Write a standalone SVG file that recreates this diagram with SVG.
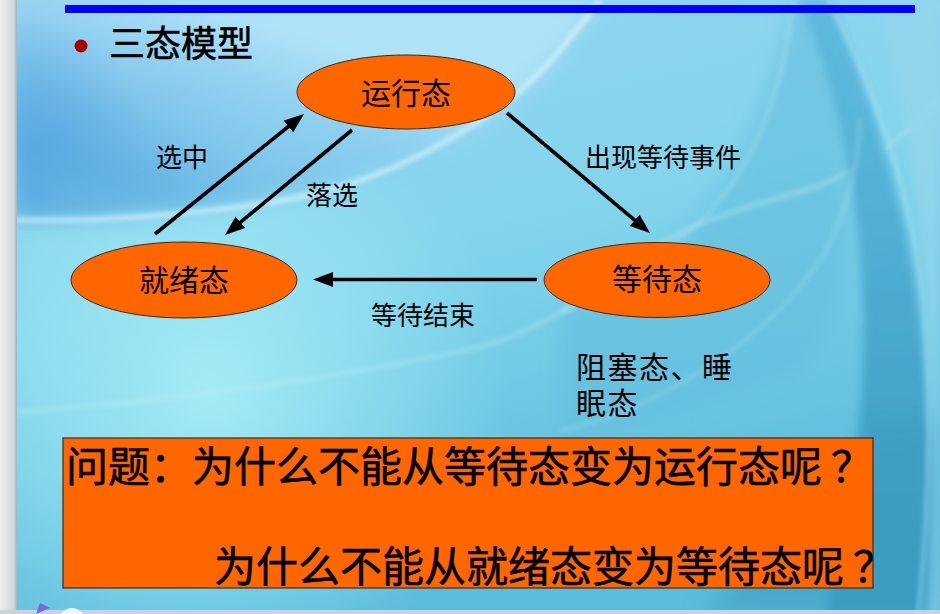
<svg xmlns="http://www.w3.org/2000/svg" width="940" height="614" viewBox="0 0 940 614">
  <defs>
    <style>
      .cjk { font-family: "Noto Sans CJK SC", "Noto Sans", sans-serif; fill: #000; }
      .state { fill: #ff6600; stroke: #3a2a20; stroke-width: 1; }
      .state-label { font-size: 30px; text-anchor: middle; }
      .edge-label { font-size: 26px; }
      .edge { stroke: #000; stroke-width: 3.6; fill: none; marker-end: url(#arrowhead); }
      .box-text { font-size: 42px; stroke: #000; stroke-width: 0.6; }
    </style>
    <marker id="arrowhead" markerUnits="userSpaceOnUse" markerWidth="22" markerHeight="16" refX="12" refY="7.5" orient="auto">
      <path d="M0,0 L20,7.5 L0,15 Z" fill="#000"/>
    </marker>
    <linearGradient id="bgBase" x1="0" y1="0" x2="0.35" y2="1">
      <stop offset="0" stop-color="#98d6f1"/>
      <stop offset="0.5" stop-color="#82d4ec"/>
      <stop offset="1" stop-color="#5cbcdb"/>
    </linearGradient>
    <linearGradient id="bandShade" gradientUnits="userSpaceOnUse" x1="300" y1="40" x2="240" y2="215">
      <stop offset="0" stop-color="#b2e4f8" stop-opacity="0.9"/>
      <stop offset="0.55" stop-color="#7fc2ec" stop-opacity="0.7"/>
      <stop offset="1" stop-color="#4c9edc" stop-opacity="0.95"/>
    </linearGradient>
    <radialGradient id="cornerBlue" cx="20" cy="130" r="120" gradientUnits="userSpaceOnUse">
      <stop offset="0" stop-color="#5eaee4" stop-opacity="0.8"/>
      <stop offset="1" stop-color="#5eaee4" stop-opacity="0"/>
    </radialGradient>
    <radialGradient id="lowGlow" cx="210" cy="390" r="300" gradientUnits="userSpaceOnUse">
      <stop offset="0" stop-color="#a8eef7" stop-opacity="0.9"/>
      <stop offset="1" stop-color="#a8eef7" stop-opacity="0"/>
    </radialGradient>
    <linearGradient id="tealDeep" x1="0" y1="0" x2="0" y2="1">
      <stop offset="0" stop-color="#5ab6dc"/>
      <stop offset="0.5" stop-color="#45a4cc"/>
      <stop offset="1" stop-color="#2f93bb"/>
    </linearGradient>
    <linearGradient id="sideBar" x1="0" y1="0" x2="1" y2="0">
      <stop offset="0" stop-color="#eceef0"/>
      <stop offset="0.8" stop-color="#d2d6da"/>
      <stop offset="1" stop-color="#a9b1b8"/>
    </linearGradient>
    <filter id="soft" x="-20%" y="-20%" width="140%" height="140%">
      <feGaussianBlur stdDeviation="10"/>
    </filter>
    <filter id="softer" x="-20%" y="-20%" width="140%" height="140%">
      <feGaussianBlur stdDeviation="5"/>
    </filter>
    <filter id="softLine" x="-10%" y="-10%" width="120%" height="120%">
      <feGaussianBlur stdDeviation="2.5"/>
    </filter>
  </defs>

  <!-- slide background -->
  <g id="background">
    <rect x="0" y="0" width="940" height="614" fill="url(#bgBase)"/>
    <!-- upper-left swoosh, darkening toward its lower edge -->
    <path d="M15,0 L600,0 C570,40 530,95 470,130 C400,170 300,198 180,212 C110,220 60,220 15,218 Z" fill="url(#bandShade)" filter="url(#soft)"/>
    <rect x="0" y="0" width="300" height="230" fill="url(#cornerBlue)"/>
    <!-- light glow lower left -->
    <rect x="0" y="0" width="940" height="614" fill="url(#lowGlow)"/>
    <!-- bright edge under the swoosh -->
    <path d="M15,220 C110,222 190,214 260,204 C330,194 380,176 430,150 C490,118 530,86 560,50 C575,32 588,16 600,0" fill="none" stroke="#e8fbff" stroke-width="4" stroke-opacity="0.75" filter="url(#softLine)"/>
    <!-- medium band right of the waiting state -->
    <path d="M793,0 C775,90 730,190 677,240 C640,275 600,300 560,313 L560,440 C640,430 720,400 780,380 C830,360 850,300 850,200 C850,120 835,50 815,0 Z" fill="#62bcdc" fill-opacity="0.55" filter="url(#soft)"/>
    <!-- long sweep through the lower half -->
    <path d="M15,412 C180,400 330,380 480,347 C560,325 620,270 667,240 C720,210 780,200 820,185 C870,165 910,130 940,100" fill="none" stroke="#c4f2fb" stroke-width="3" stroke-opacity="0.5" filter="url(#softLine)"/>
    <!-- deep teal lens on the right -->
    <path d="M800,0 C845,110 870,250 862,390 C856,480 840,560 826,614 L922,614 C934,500 932,360 905,230 C882,130 855,55 830,0 Z" fill="url(#tealDeep)" fill-opacity="0.85" filter="url(#softer)"/>
    <!-- bottom right shading under the box -->
    <path d="M700,614 C760,560 820,500 870,430 L940,420 L940,614 Z" fill="#3a9cc2" fill-opacity="0.6" filter="url(#soft)"/>
    <!-- arcs -->
    <path d="M793,0 C785,80 760,150 720,200 C690,235 640,275 560,313" fill="none" stroke="#b4e8f6" stroke-width="2.5" stroke-opacity="0.55" filter="url(#softLine)"/>
    <path d="M828,0 C875,90 915,200 925,320 C932,420 928,520 918,614" fill="none" stroke="#b6e8f6" stroke-width="3" stroke-opacity="0.6" filter="url(#softLine)"/>
    <path d="M560,431 C650,410 760,350 820,260 C845,220 858,170 860,118" fill="none" stroke="#a6e2f2" stroke-width="3" stroke-opacity="0.45" filter="url(#softLine)"/>
    <!-- lighter edge strip on the far right -->
    <path d="M880,0 L940,0 L940,614 L930,614 C940,400 925,200 880,0 Z" fill="#96d6ec" fill-opacity="0.7" filter="url(#softer)"/>
    <!-- window edge on the left -->
    <rect x="0" y="0" width="17" height="614" fill="url(#sideBar)"/>
    <rect x="0" y="610" width="940" height="4" fill="#c9d3da"/>
    <circle cx="72" cy="621" r="13" fill="#f4f6f8"/>
    <path d="M36,614 L40,603 L50,608 Z" fill="#7a64e8"/>
  </g>

  <!-- heading -->
  <g id="heading">
    <rect x="65" y="5" width="850" height="8" fill="#0000ff"/>
    <circle cx="81" cy="46" r="6.5" fill="#a80000"/>
    <text class="cjk" x="109" y="57" font-size="36" stroke="#000" stroke-width="0.6">三态模型</text>
  </g>

  <!-- transitions -->
  <g id="connectors">
    <line class="edge" x1="155" y1="234" x2="297.8" y2="119"/>
    <line class="edge" x1="352" y1="130" x2="231.2" y2="229.9"/>
    <line class="edge" x1="507" y1="113" x2="643.9" y2="227.9"/>
    <line class="edge" x1="537" y1="279.5" x2="321" y2="279.5"/>
    <text class="cjk edge-label" x="156" y="167">选中</text>
    <text class="cjk edge-label" x="306" y="205">落选</text>
    <text class="cjk edge-label" x="585" y="167">出现等待事件</text>
    <text class="cjk edge-label" x="371" y="325">等待结束</text>
  </g>

  <!-- states -->
  <g id="running">
    <ellipse class="state" cx="406" cy="92" rx="109" ry="37"/>
    <text class="cjk state-label" x="406" y="104">运行态</text>
  </g>
  <g id="ready">
    <ellipse class="state" cx="184" cy="280" rx="113" ry="38"/>
    <text class="cjk state-label" x="184" y="291">就绪态</text>
  </g>
  <g id="waiting">
    <ellipse class="state" cx="657" cy="280" rx="113" ry="37.5"/>
    <text class="cjk state-label" x="657" y="290">等待态</text>
  </g>

  <!-- note under the waiting state, wrapped over two lines -->
  <g id="waiting-note">
    <text class="cjk" font-size="30" letter-spacing="1.5"><tspan x="576" y="378">阻塞态、睡</tspan><tspan x="576" y="414">眠态</tspan></text>
  </g>

  <!-- question box -->
  <g id="question">
    <rect x="63" y="438" width="810" height="150" fill="#ff6600" stroke="#3a2a20" stroke-width="1.2"/>
    <text class="cjk box-text" x="66" y="482">问题：为什么不能从等待态变为运行态呢<tspan dx="9">？</tspan></text>
    <text class="cjk box-text" x="214" y="582">为什么不能从就绪态变为等待态呢<tspan dx="9">？</tspan></text>
  </g>
</svg>
